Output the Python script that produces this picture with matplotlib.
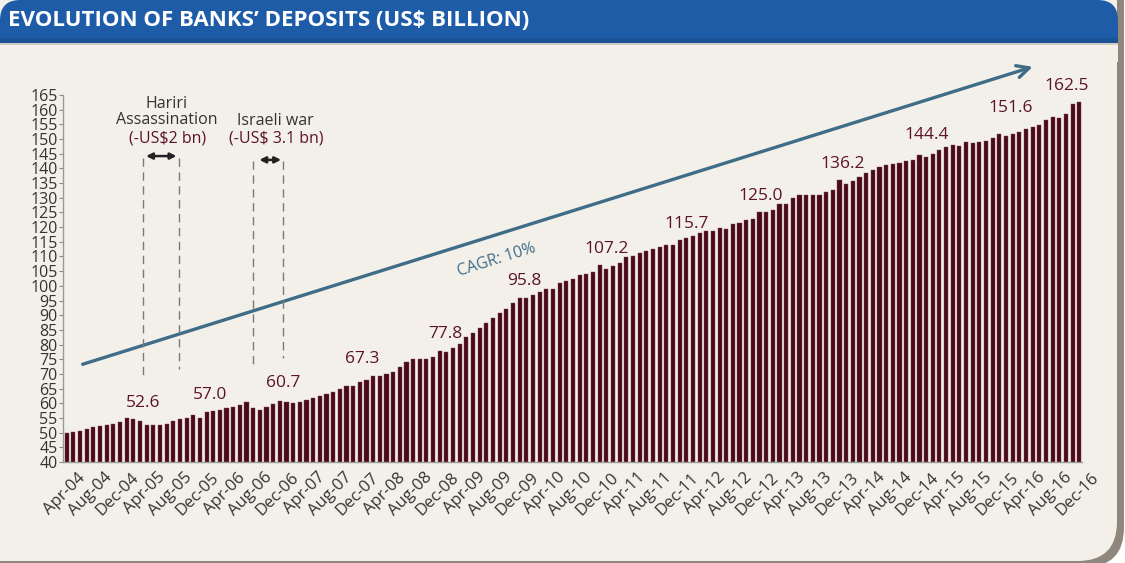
import numpy as np
import pandas as pd
import matplotlib
matplotlib.use("Agg")
import matplotlib.pyplot as plt
from matplotlib import font_manager
from matplotlib.patches import FancyBboxPatch, Rectangle
from matplotlib.transforms import ScaledTranslation

# monthly deposits, Apr-04 .. Dec-16 (US$ bn)
months = pd.date_range("2004-04-01", "2016-12-01", freq="MS")
deposits = [
    49.9, 50.2, 50.6, 51.4, 51.8, 52.2, 52.6, 53.0, 53.7,
    54.9, 54.5, 54.1, 52.6, 52.6, 52.6, 53.0, 54.1, 54.6, 54.9, 56.1, 55.1,
    57.0, 57.3, 57.6, 58.4, 58.7, 59.5, 60.6, 58.4, 57.7, 58.7, 59.8, 60.7,
    60.6, 60.2, 60.5, 61.0, 61.8, 62.5, 63.2, 64.0, 65.0, 65.8, 66.0, 67.3,
    67.8, 69.2, 69.2, 69.9, 70.6, 72.2, 74.0, 75.0, 75.0, 75.0, 75.7, 77.8,
    77.4, 78.8, 80.3, 82.6, 84.0, 85.6, 87.5, 89.0, 90.9, 92.2, 94.1, 95.8,
    96.0, 96.8, 97.9, 99.0, 99.0, 101.0, 101.7, 102.5, 103.6, 104.2, 104.7, 107.2,
    105.9, 106.7, 107.8, 109.8, 110.2, 111.3, 111.8, 112.4, 113.2, 114.0, 114.0, 115.7,
    116.4, 117.1, 117.9, 118.8, 118.8, 119.8, 119.4, 121.0, 121.4, 122.4, 122.9, 125.0,
    125.3, 126.0, 128.0, 128.0, 129.8, 131.1, 131.1, 131.1, 131.1, 131.8, 132.6, 136.2,
    134.8, 135.8, 137.0, 138.3, 139.5, 140.5, 141.2, 141.5, 141.8, 142.4, 143.0, 144.4,
    144.0, 145.0, 146.4, 147.4, 147.9, 147.7, 149.1, 148.6, 148.9, 149.3, 150.3, 151.6,
    151.0, 151.6, 152.4, 153.3, 154.2, 154.7, 156.4, 157.6, 157.0, 158.6, 162.0, 162.5,
]

# bars that carry a value label
labelled = [12, 21, 32, 44, 56, 68, 80, 92, 104, 116, 128, 140, 152]
label_off = [(-3, 22), (3, 17), (3, 18), (2, 23), (6, 17), (5, 17), (7, 16),
             (7, 16), (1, 16), (3, 16), (7, 20), (11, 26), (-13, 16)]

tick_labels = [m.strftime("%b-%y") for m in months]

BAR = "#4a0a17"
MAROON = "#5c1424"
STEEL = "#3f6d87"
GREY_TXT = "#333333"
CREAM = "#f3f0ea"
BLUE = "#1f5ca8"

names = {f.name for f in font_manager.fontManager.ttflist}
title_font = "Liberation Sans Narrow" if "Liberation Sans Narrow" in names else "Open Sans"
plt.rcParams["font.family"] = ["Open Sans", "DejaVu Sans"]

W, H = 1125, 563
fig = plt.figure(figsize=(W / 100, H / 100), dpi=100)
fig.patch.set_facecolor("white")

def box(x0, y0, x1, y1):
    # rectangle given in pixels from the top-left corner
    return (x0 / W, 1 - y1 / H), (x1 - x0) / W, (y1 - y0) / H

# panel with shadow
for (x0, y0, x1, y1), fc, z in [((-40, -40, 1124, 567), "#8f877b", 0),
                                ((-40, -40, 1117, 561), CREAM, 0.1)]:
    xy, w, h = box(x0, y0, x1, y1)
    fig.patches.append(FancyBboxPatch(xy, w, h, boxstyle="round,pad=0,rounding_size=0.035",
                                      transform=fig.transFigure, fc=fc, ec="none",
                                      mutation_aspect=W / H, zorder=z))
# header bar
xy, w, h = box(0, 0, 1118, 60)
fig.patches.append(FancyBboxPatch(xy, w, h, boxstyle="round,pad=0,rounding_size=0.018",
                                  transform=fig.transFigure, fc=BLUE, ec="none",
                                  mutation_aspect=W / H, zorder=0.2))
for (x0, y0, x1, y1), fc in [((0, 43, 1118, 62), CREAM),
                             ((0, 38, 1118, 43), "#1a5496"),
                             ((0, 43, 1118, 45), "#cfcbc4")]:
    xy, w, h = box(x0, y0, x1, y1)
    fig.patches.append(Rectangle(xy, w, h, transform=fig.transFigure, fc=fc, ec="none",
                                 zorder=0.3))
fig.text(8 / W, 1 - 21 / H, "EVOLUTION OF BANKS\u2019 DEPOSITS (US$ BILLION)",
         color="white", fontsize=17 if title_font != "Open Sans" else 16,
         fontweight="bold", family=[title_font, "DejaVu Sans"], va="center", ha="left",
         zorder=1)

ax = fig.add_axes([63 / W, 1 - 462 / H, (1082 - 63) / W, (462 - 95) / H])
ax.set_zorder(2)
ax.set_facecolor("none")
x = np.arange(len(deposits))
ax.bar(x, deposits, width=0.62, color=BAR, edgecolor="#7a4550", linewidth=0.3, zorder=2)

ax.set_xlim(-0.55, 152.4)
ax.set_ylim(40, 165)
ax.set_yticks(np.arange(40, 166, 5))
ax.tick_params(axis="y", labelsize=11.5, colors="#888888", labelcolor=GREY_TXT,
               length=3, width=0.8, pad=1)
ax.set_xticks(x[::4])
ax.set_xticklabels(tick_labels[::4], rotation=45, ha="right", va="top",
                   rotation_mode="anchor", fontsize=12, color=GREY_TXT)
ax.tick_params(axis="x", length=0, pad=4)
offset = ScaledTranslation(11 / 100, -2 / 100, fig.dpi_scale_trans)
for lab in ax.get_xticklabels():
    lab.set_transform(lab.get_transform() + offset)
for s in ["top", "right"]:
    ax.spines[s].set_visible(False)
for s in ["left", "bottom"]:
    ax.spines[s].set_color("#9a9a9a")
    ax.spines[s].set_linewidth(1)

for i, (dx, dy) in zip(labelled, label_off):
    ax.annotate(f"{deposits[i]:.1f}", xy=(i, deposits[i]), xytext=(dx, dy),
                textcoords="offset pixels", ha="center", va="center",
                fontsize=12.5, color=MAROON, zorder=3)

# trend arrow with CAGR
ax.annotate("", xy=(145.4, 174.9), xytext=(2.0, 73.0),
            arrowprops=dict(arrowstyle="->", color=STEEL, lw=2.4, mutation_scale=22),
            annotation_clip=False, zorder=3)
ax.text(64.6, 108.8, "CAGR: 10%", rotation=17.4, color=STEEL, fontsize=11.5,
        ha="center", va="center", rotation_mode="anchor")

# event annotations
dash = dict(color="#7a7a7a", lw=1, dashes=(6, 4), zorder=3)
ax.plot([11.5, 11.5], [143.5, 68.5], **dash)
ax.plot([16.9, 16.9], [143.5, 71.6], **dash)
ax.plot([27.9, 27.9], [142.5, 72.6], **dash)
ax.plot([32.5, 32.5], [142.5, 75.4], **dash)
dbl = dict(arrowstyle="<|-|>", color="#222222", lw=1.8, mutation_scale=9)
ax.annotate("", xy=(16.9, 144.2), xytext=(11.5, 144.2), arrowprops=dbl)
ax.annotate("", xy=(32.6, 142.9), xytext=(28.5, 142.9), arrowprops=dbl)

ax.text(15.0, 159.2, "Hariri\nAssassination", ha="center", va="center",
        fontsize=11.5, color=GREY_TXT, linespacing=1.05)
ax.text(15.2, 150.2, "(-US$2 bn)", ha="center", va="center", fontsize=11.5, color=MAROON)
ax.text(31.4, 156.3, "Israeli war", ha="center", va="center", fontsize=11.5, color=GREY_TXT)
ax.text(31.5, 150.2, "(-US$ 3.1 bn)", ha="center", va="center", fontsize=11.5, color=MAROON)

fig.savefig("out.png", dpi=100, facecolor=fig.get_facecolor())
